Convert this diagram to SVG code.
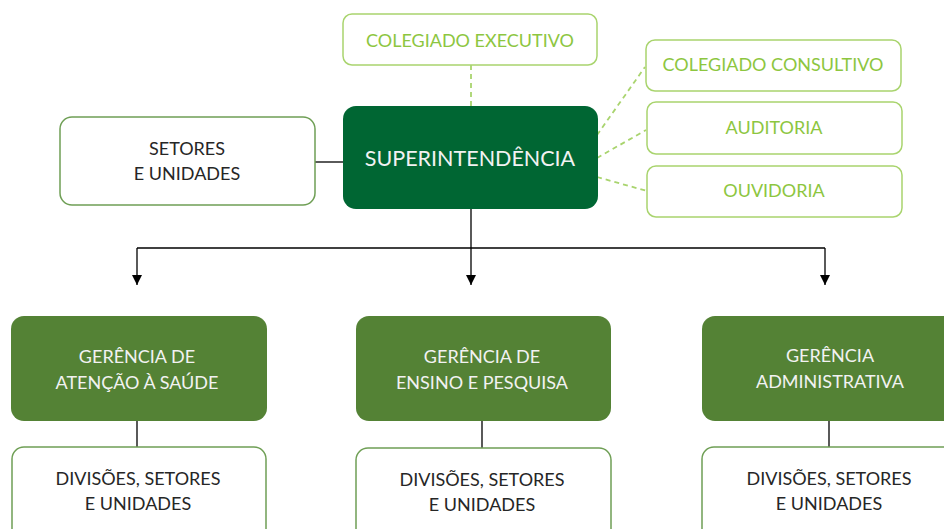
<svg xmlns="http://www.w3.org/2000/svg" width="944" height="529" viewBox="0 0 944 529">
<defs>
<marker id="arr" markerWidth="10" markerHeight="10" refX="10" refY="5" orient="auto" markerUnits="userSpaceOnUse" viewBox="0 0 10 10">
<path d="M0,0 L10,5 L0,10 Z" fill="#000"/>
</marker>
<style>
text{font-family:Lato,"Open Sans","Liberation Sans",sans-serif;text-anchor:middle;dominant-baseline:central}
.lg rect{fill:#fff;stroke:#a9d46e;stroke-width:1.5}
.lg text{fill:#8dc63f;font-size:18px}
.wb rect{fill:#fff;stroke:#6f9f55;stroke-width:1.5}
.wb text{fill:#262626;font-size:18px}
.gb rect{fill:#548235}
.gb text{fill:#f2f2f2;font-size:18px}
.dash{stroke:#a9d46e;stroke-width:1.8;stroke-dasharray:5,4;fill:none}
.sol{stroke:#000;stroke-width:1.3;fill:none}
</style>
</defs>
<g id="connectors">
<line class="dash" x1="471" y1="65" x2="471" y2="106"/>
<line class="dash" x1="597" y1="135" x2="645" y2="67"/>
<line class="dash" x1="597" y1="158" x2="646" y2="130"/>
<line class="dash" x1="597" y1="177" x2="647" y2="191"/>
<line class="sol" x1="315" y1="162" x2="343" y2="162"/>
<line class="sol" x1="471" y1="209" x2="471" y2="248"/>
<line class="sol" x1="137" y1="248" x2="825" y2="248"/>
<line class="sol" x1="137" y1="248" x2="137" y2="285" marker-end="url(#arr)"/>
<line class="sol" x1="471" y1="248" x2="471" y2="285" marker-end="url(#arr)"/>
<line class="sol" x1="825" y1="248" x2="825" y2="285" marker-end="url(#arr)"/>
<line class="sol" x1="137" y1="421" x2="137" y2="447"/>
<line class="sol" x1="482" y1="421" x2="482" y2="448"/>
<line class="sol" x1="829" y1="421" x2="829" y2="447"/>
</g>
<g id="colegiado-executivo" class="lg">
<rect x="343" y="14" width="254" height="51" rx="9"/>
<text x="470" y="40">COLEGIADO EXECUTIVO</text>
</g>
<g id="superintendencia">
<rect x="343" y="106" width="255" height="103" rx="13" fill="#006633"/>
<text x="470" y="158" fill="#f2f2f2" font-size="21.5">SUPERINTENDÊNCIA</text>
</g>
<g id="colegiado-consultivo" class="lg">
<rect x="646" y="40" width="255" height="51" rx="9"/>
<text x="773" y="64">COLEGIADO CONSULTIVO</text>
</g>
<g id="auditoria" class="lg">
<rect x="647" y="102" width="255" height="52" rx="9"/>
<text x="774" y="127">AUDITORIA</text>
</g>
<g id="ouvidoria" class="lg">
<rect x="647" y="166" width="255" height="51" rx="9"/>
<text x="774" y="190">OUVIDORIA</text>
</g>
<g id="setores-unidades" class="wb">
<rect x="60" y="117" width="255" height="88" rx="12"/>
<text x="187" y="148">SETORES</text>
<text x="187" y="173">E UNIDADES</text>
</g>
<g id="gerencia-atencao" class="gb">
<rect x="11" y="316" width="256" height="105" rx="13"/>
<text x="137" y="356">GERÊNCIA DE</text>
<text x="137" y="382">ATENÇÃO À SAÚDE</text>
</g>
<g id="gerencia-ensino" class="gb">
<rect x="356" y="316" width="255" height="105" rx="13"/>
<text x="482" y="356">GERÊNCIA DE</text>
<text x="482" y="382">ENSINO E PESQUISA</text>
</g>
<g id="gerencia-administrativa" class="gb">
<rect x="702" y="316" width="256" height="105" rx="13"/>
<text x="830" y="355">GERÊNCIA</text>
<text x="830" y="381">ADMINISTRATIVA</text>
</g>
<g id="divisoes-1" class="wb">
<rect x="12" y="447" width="254" height="100" rx="12"/>
<text x="138" y="478">DIVISÕES, SETORES</text>
<text x="138" y="503">E UNIDADES</text>
</g>
<g id="divisoes-2" class="wb">
<rect x="356" y="448" width="255" height="100" rx="12"/>
<text x="482" y="479">DIVISÕES, SETORES</text>
<text x="482" y="504">E UNIDADES</text>
</g>
<g id="divisoes-3" class="wb">
<rect x="702" y="447" width="256" height="100" rx="12"/>
<text x="829" y="478">DIVISÕES, SETORES</text>
<text x="829" y="503">E UNIDADES</text>
</g>
</svg>
